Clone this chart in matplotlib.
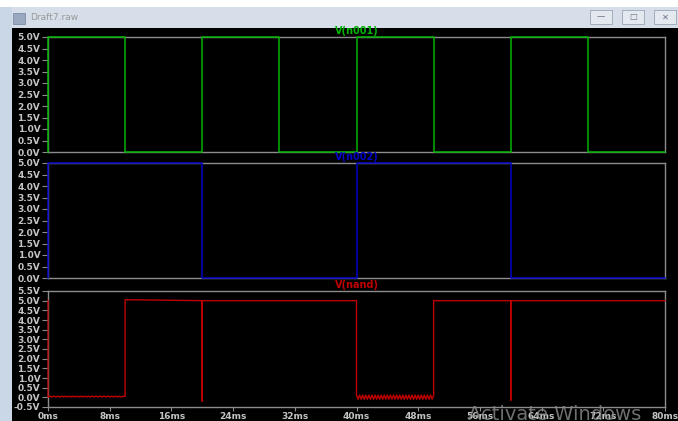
import matplotlib
matplotlib.use('Agg')
import matplotlib.pyplot as plt
from matplotlib.patches import Rectangle

# traces (time in ms, volts)
t_n001 = [0, 0, 10, 20, 30, 40, 50, 60, 70, 80]
v_n001 = [0, 5, 0, 5, 0, 5, 0, 5, 0, 0]

t_n002 = [0, 0, 20, 40, 60, 80]
v_n002 = [0, 5, 0, 5, 0, 0]

# low parts of V(nand) carry a small ripple
nand_low1_t = [0.0, 0.25, 0.5, 0.75, 1.0, 1.25, 1.5, 1.75, 2.0, 2.25, 2.5, 2.75,
               3.0, 3.25, 3.5, 3.75, 4.0, 4.25, 4.5, 4.75, 5.0, 5.25, 5.5, 5.75,
               6.0, 6.25, 6.5, 6.75, 7.0, 7.25, 7.5, 7.75, 8.0, 8.25, 8.5, 8.75,
               9.0, 9.25, 9.5, 9.75, 10.0]
nand_low1_v = [0.0, 0.06, 0.02, 0.06, 0.02, 0.06, 0.02, 0.06, 0.02, 0.06, 0.02, 0.06,
               0.02, 0.06, 0.02, 0.06, 0.02, 0.06, 0.02, 0.06, 0.02, 0.06, 0.02, 0.06,
               0.02, 0.06, 0.02, 0.06, 0.02, 0.06, 0.02, 0.06, 0.02, 0.06, 0.02, 0.06,
               0.02, 0.06, 0.02, 0.06, 0.05]
nand_low2_t = [40.0, 40.2, 40.4, 40.6, 40.8, 41.0, 41.2, 41.4, 41.6, 41.8, 42.0,
               42.2, 42.4, 42.6, 42.8, 43.0, 43.2, 43.4, 43.6, 43.8, 44.0,
               44.2, 44.4, 44.6, 44.8, 45.0, 45.2, 45.4, 45.6, 45.8, 46.0,
               46.2, 46.4, 46.6, 46.8, 47.0, 47.2, 47.4, 47.6, 47.8, 48.0,
               48.2, 48.4, 48.6, 48.8, 49.0, 49.2, 49.4, 49.6, 49.8, 50.0]
nand_low2_v = [0.12, -0.1, 0.12, -0.1, 0.12, -0.1, 0.12, -0.1, 0.12, -0.1, 0.12,
               -0.1, 0.12, -0.1, 0.12, -0.1, 0.12, -0.1, 0.12, -0.1, 0.12,
               -0.1, 0.12, -0.1, 0.12, -0.1, 0.12, -0.1, 0.12, -0.1, 0.12,
               -0.1, 0.12, -0.1, 0.12, -0.1, 0.12, -0.1, 0.12, -0.1, 0.12,
               -0.1, 0.12, -0.1, 0.12, -0.1, 0.12, -0.1, 0.12, -0.1, 0.1]
nand_high1_t = [10, 20, 20, 20, 40]
nand_high1_v = [5.05, 5.0, -0.2, 5.0, 5.0]
nand_high2_t = [50, 60, 60, 60, 80]
nand_high2_v = [5.0, 5.0, -0.15, 5.0, 5.0]

x_ticks = [0, 8, 16, 24, 32, 40, 48, 56, 64, 72, 80]
x_labels = ['0ms', '8ms', '16ms', '24ms', '32ms', '40ms', '48ms', '56ms', '64ms', '72ms', '80ms']
y_ticks_logic = [0.0, 0.5, 1.0, 1.5, 2.0, 2.5, 3.0, 3.5, 4.0, 4.5, 5.0]
y_ticks_nand = [-0.5, 0.0, 0.5, 1.0, 1.5, 2.0, 2.5, 3.0, 3.5, 4.0, 4.5, 5.0, 5.5]

W, H = 678, 421
fig = plt.figure(figsize=(W / 100, H / 100), dpi=100, facecolor='black')

# window chrome
fig.patches.append(Rectangle((0, 1 - 28 / H), 1, 28 / H, transform=fig.transFigure,
                             facecolor='#d5dee9', edgecolor='none', zorder=0))
fig.patches.append(Rectangle((0, 1 - 7 / H), 1, 7 / H, transform=fig.transFigure,
                             facecolor='white', edgecolor='none', zorder=0))
fig.patches.append(Rectangle((0, 0), 12 / W, 1 - 7 / H, transform=fig.transFigure,
                             facecolor='#c9d7e6', edgecolor='none', zorder=0))
fig.patches.append(Rectangle((13 / W, 1 - 24 / H), 12 / W, 11 / H, transform=fig.transFigure,
                             facecolor='#9aa8c0', edgecolor='#7080a0', lw=0.5, zorder=1))
fig.text(30 / W, 1 - 18 / H, 'Draft7.raw', color='#9a9a9a', fontsize=6.5, va='center')
for bx, sym in [(590, '\u2014'), (622, '\u25a1'), (654, '\u2715')]:
    fig.patches.append(Rectangle((bx / W, 1 - 24 / H), 22 / W, 14 / H, transform=fig.transFigure,
                                 facecolor='#e4e9f0', edgecolor='#9aa4b4', lw=0.6, zorder=1))
    fig.text((bx + 11) / W, 1 - 17 / H, sym, color='#6a7488', fontsize=6,
             ha='center', va='center', zorder=2)

left, right = 48, 665
panels = [(37, 152, t_n001, v_n001, '#00b400', 'V(n001)', (0, 5), y_ticks_logic),
          (163, 278, t_n002, v_n002, '#0000c8', 'V(n002)', (0, 5), y_ticks_logic),
          (291, 407, None, None, '#c00000', 'V(nand)', (-0.5, 5.5), y_ticks_nand)]

grey = '#8c8c8c'
label_col = '#c4c4c4'
for top, bot, t, v, col, title, ylim, yt in panels:
    ax = fig.add_axes([left / W, 1 - bot / H, (right - left) / W, (bot - top) / H])
    ax.set_facecolor('black')
    if t is not None:
        ax.plot(t, v, color=col, lw=1.1, drawstyle='steps-post', zorder=5, clip_on=False)
    else:
        nt = [0] + nand_low1_t + nand_high1_t + nand_low2_t + nand_high2_t
        nv = [5.0] + nand_low1_v + nand_high1_v + nand_low2_v + nand_high2_v
        ax.plot(nt, nv, color=col, lw=1.0, zorder=5, clip_on=False)
    ax.set_xlim(0, 80)
    ax.set_ylim(*ylim)
    ax.set_yticks(yt)
    ax.set_yticklabels(['%.1fV' % y for y in yt])
    ax.set_xticks(x_ticks)
    for s in ax.spines.values():
        s.set_color(grey)
        s.set_linewidth(1.0)
        s.set_zorder(1)
    ax.tick_params(axis='y', colors=grey, length=4, width=0.8, direction='out', pad=1.5)
    if title == 'V(nand)':
        ax.set_xticklabels(x_labels)
        ax.tick_params(axis='x', colors=grey, length=3, width=0.8, direction='out', pad=0.5)
    else:
        ax.tick_params(axis='x', length=0, labelbottom=False)
    for lab in ax.get_yticklabels() + ax.get_xticklabels():
        lab.set_color(label_col)
        lab.set_fontsize(6.5)
        lab.set_fontweight('bold')
    fig.text((left + right) / 2 / W, 1 - (top - 6.5) / H, title, color=col,
             fontsize=7, fontweight='bold', ha='center', va='center', zorder=10)

# screenshot watermark
fig.text(555 / W, 1 / H, 'Activate Windows', color='#8a8a8a', alpha=0.8,
         fontsize=14, ha='center', va='baseline', zorder=10)

fig.savefig('out.png', dpi=100, facecolor='black')
